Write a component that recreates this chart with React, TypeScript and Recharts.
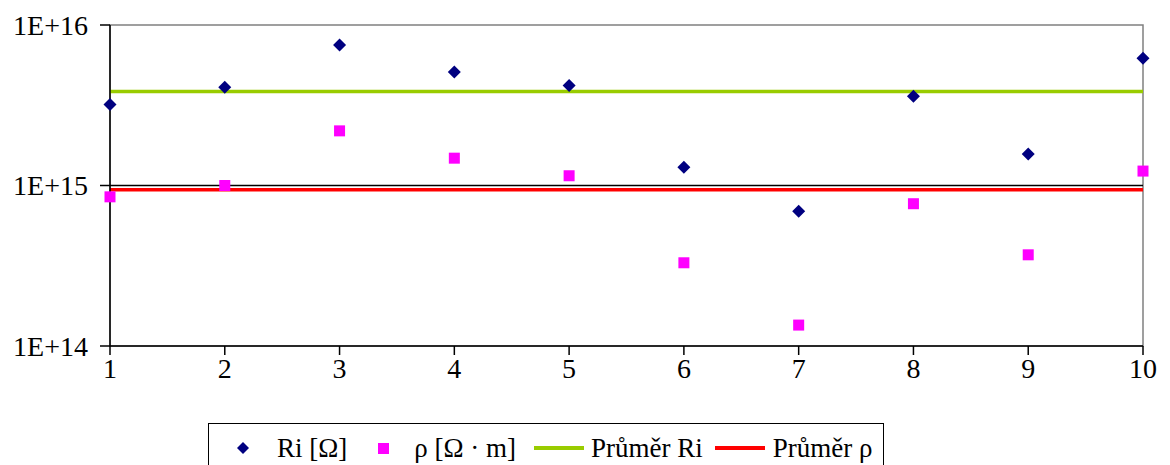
import {
  ComposedChart,
  Legend,
  Line,
  ReferenceArea,
  ReferenceLine,
  Scatter,
  XAxis,
  YAxis,
} from 'recharts'

const samples = [1, 2, 3, 4, 5, 6, 7, 8, 9, 10]
const riValues = [3.2e15, 4.1e15, 7.5e15, 5.1e15, 4.2e15, 1.3e15, 6.9e14, 3.6e15, 1.57e15, 6.2e15]
const rhoValues = [8.5e14, 1.0e15, 2.19e15, 1.48e15, 1.15e15, 3.3e14, 1.35e14, 7.7e14, 3.7e14, 1.23e15]
const avgRi = 3.85e15
const avgRho = 9.4e14
const yTicks = [1e14, 1e15, 1e16]

const chartData = samples.map((x, i) => ({
  x,
  ri: riValues[i],
  rho: rhoValues[i],
  avgRi,
  avgRho,
}))

const font = '"Liberation Serif", "Times New Roman", serif'

function Diamond(props: any) {
  const { cx, cy } = props
  const r = 6.5
  return (
    <polygon
      points={`${cx},${cy - r} ${cx + r},${cy} ${cx},${cy + r} ${cx - r},${cy}`}
      fill="#000080"
    />
  )
}

function Square(props: any) {
  const { cx, cy } = props
  const s = 11
  return <rect x={cx - s / 2} y={cy - s / 2} width={s} height={s} fill="#ff00ff" />
}

function ChartLegend() {
  return (
    <div
      style={{
        border: '1.5px solid #000',
        height: 50,
        display: 'flex',
        alignItems: 'center',
        fontFamily: font,
        fontSize: 27,
        color: '#000',
        paddingLeft: 28,
        paddingRight: 10,
        boxSizing: 'border-box',
        whiteSpace: 'nowrap',
        background: '#fff',
      }}
    >
      <svg width={12} height={12} style={{ marginRight: 28 }}>
        <polygon points="6,0 12,6 6,12 0,6" fill="#000080" />
      </svg>
      <span>Ri [Ω]</span>
      <svg width={11} height={11} style={{ marginLeft: 31, marginRight: 25 }}>
        <rect width={11} height={11} fill="#ff00ff" />
      </svg>
      <span>ρ [Ω · m]</span>
      <svg width={50} height={4} style={{ marginLeft: 18, marginRight: 7 }}>
        <rect width={50} height={4} fill="#99cc00" />
      </svg>
      <span>Průměr Ri</span>
      <svg width={50} height={4} style={{ marginLeft: 12, marginRight: 8 }}>
        <rect width={50} height={4} fill="#ff0000" />
      </svg>
      <span>Průměr ρ</span>
    </div>
  )
}

export default function App() {
  return (
    <div style={{ background: '#fff' }}>
      <ComposedChart
        width={1162}
        height={457}
        data={chartData}
        margin={{ top: 17, right: 27, bottom: 79, left: 0 }}
      >
        <ReferenceArea
          x1={1}
          x2={10}
          y1={1e14}
          y2={1e16}
          fill="none"
          stroke="#808080"
          strokeWidth={1.5}
          ifOverflow="visible"
        />
        <ReferenceLine y={1e15} stroke="#000" strokeWidth={1.5} />
        <XAxis
          type="number"
          dataKey="x"
          domain={[1, 10]}
          ticks={samples}
          interval={0}
          stroke="#000"
          strokeWidth={1.5}
          tickSize={9}
          tickMargin={3}
          height={40}
          tick={{ fill: '#000', fontSize: 28, fontFamily: font }}
        />
        <YAxis
          type="number"
          scale="log"
          domain={[1e14, 1e16]}
          ticks={yTicks}
          allowDataOverflow
          stroke="#000"
          strokeWidth={1.5}
          tickSize={10}
          tickMargin={12}
          width={102}
          tick={{ fill: '#000', fontSize: 28, fontFamily: font }}
          tickFormatter={(v: number) => `1E+${Math.round(Math.log10(v))}`}
        />
        <Line
          dataKey="avgRi"
          name="Průměr Ri"
          stroke="#99cc00"
          strokeWidth={3.5}
          dot={false}
          isAnimationActive={false}
        />
        <Line
          dataKey="avgRho"
          name="Průměr ρ"
          stroke="#ff0000"
          strokeWidth={3.5}
          dot={false}
          isAnimationActive={false}
        />
        <Scatter dataKey="ri" name="Ri [Ω]" shape={Diamond} isAnimationActive={false} />
        <Scatter dataKey="rho" name="ρ [Ω · m]" shape={Square} isAnimationActive={false} />
        <Legend
          layout="horizontal"
          verticalAlign="middle"
          align="center"
          content={() => <ChartLegend />}
          wrapperStyle={{ left: 200, top: 415, width: 'auto', height: 'auto' }}
        />
      </ComposedChart>
    </div>
  )
}
